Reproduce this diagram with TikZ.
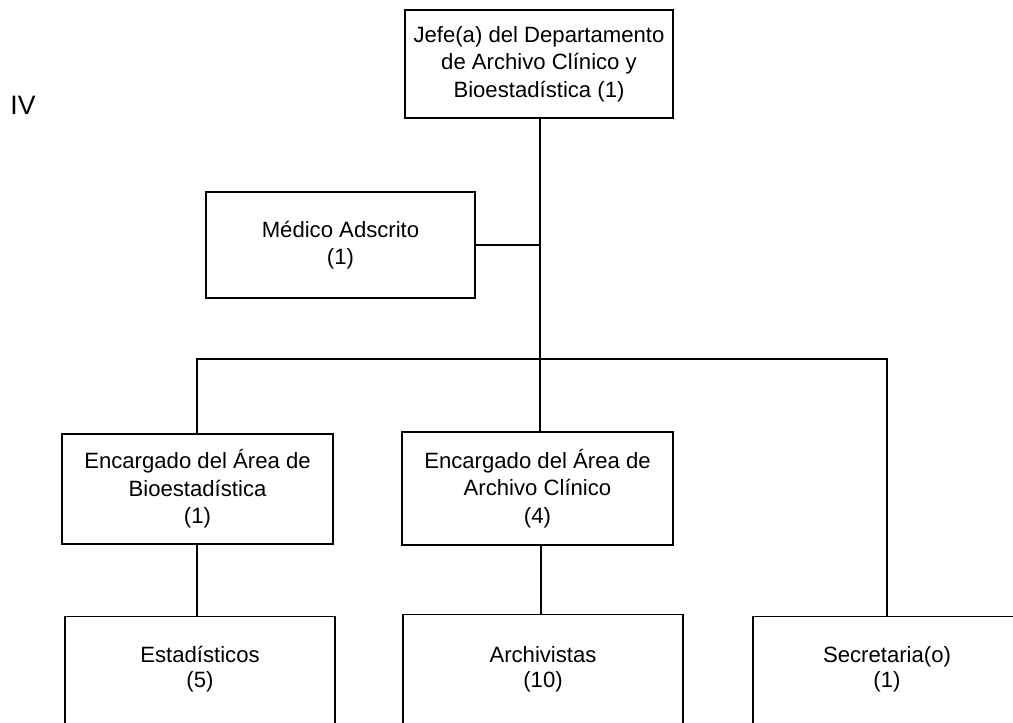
\documentclass[tikz,border=0pt]{standalone}
\usepackage{fontspec}
\setmainfont{Liberation Sans}
\begin{document}
\begin{tikzpicture}[x=0.75pt,y=-0.75pt,
  box/.style={draw,line width=1.1pt,inner sep=0pt,align=center,
    font=\fontsize{16.6}{20.5}\selectfont},
  lbl/.style={inner sep=0pt,align=center,font=\fontsize{16.6}{19}\selectfont},
  con/.style={line width=1.1pt}]
\clip (0,0) rectangle (1013,722);
\useasboundingbox (0,0) rectangle (1013,722);
% nodes
\node[box,minimum width=268*0.75pt,minimum height=108*0.75pt] (jefe) at (539,64)
  {Jefe(a) del Departamento\\de Archivo Clínico y\\Bioestadística (1)};
\node[inner sep=0pt,font=\fontsize{20}{24}\selectfont] (iv) at (23,105) {IV};
\node[box,minimum width=269*0.75pt,minimum height=106*0.75pt] (med) at (340.5,245)
  {Médico Adscrito\\(1)};
\node[box,minimum width=271*0.75pt,minimum height=110*0.75pt] (eb) at (197.5,489)
  {Encargado del Área de\\Bioestadística\\(1)};
\node[box,minimum width=271*0.75pt,minimum height=113*0.75pt] (ea) at (537.5,488.5)
  {Encargado del Área de\\Archivo Clínico\\(4)};
\node[box,minimum width=270*0.75pt,minimum height=200*0.75pt,anchor=north] (est) at (200,616) {};
\node[box,minimum width=280*0.75pt,minimum height=200*0.75pt,anchor=north] (arc) at (543,614) {};
\node[box,minimum width=268*0.75pt,minimum height=200*0.75pt,anchor=north] (sec) at (887,616) {};
\node[lbl] (estt) at (200,669) {Estadísticos\\(5)};
\node[lbl] (arct) at (543,669) {Archivistas\\(10)};
\node[lbl] (sect) at (887,669) {Secretaria(o)\\(1)};
% connectors
\coordinate (mid) at (540,245);
\coordinate (hub) at (540,359);
\draw[con] (jefe.south -| mid) -- (ea.north -| mid);
\draw[con] (med.east) -- (med.east -| mid);
\draw[con] (eb.north -| 197,0) |- (hub) -| (sec.north);
\draw[con] (eb.south -| 197,0) -- (est.north -| 197,0);
\draw[con] (ea.south -| 541,0) -- (arc.north -| 541,0);
\end{tikzpicture}
\end{document}
